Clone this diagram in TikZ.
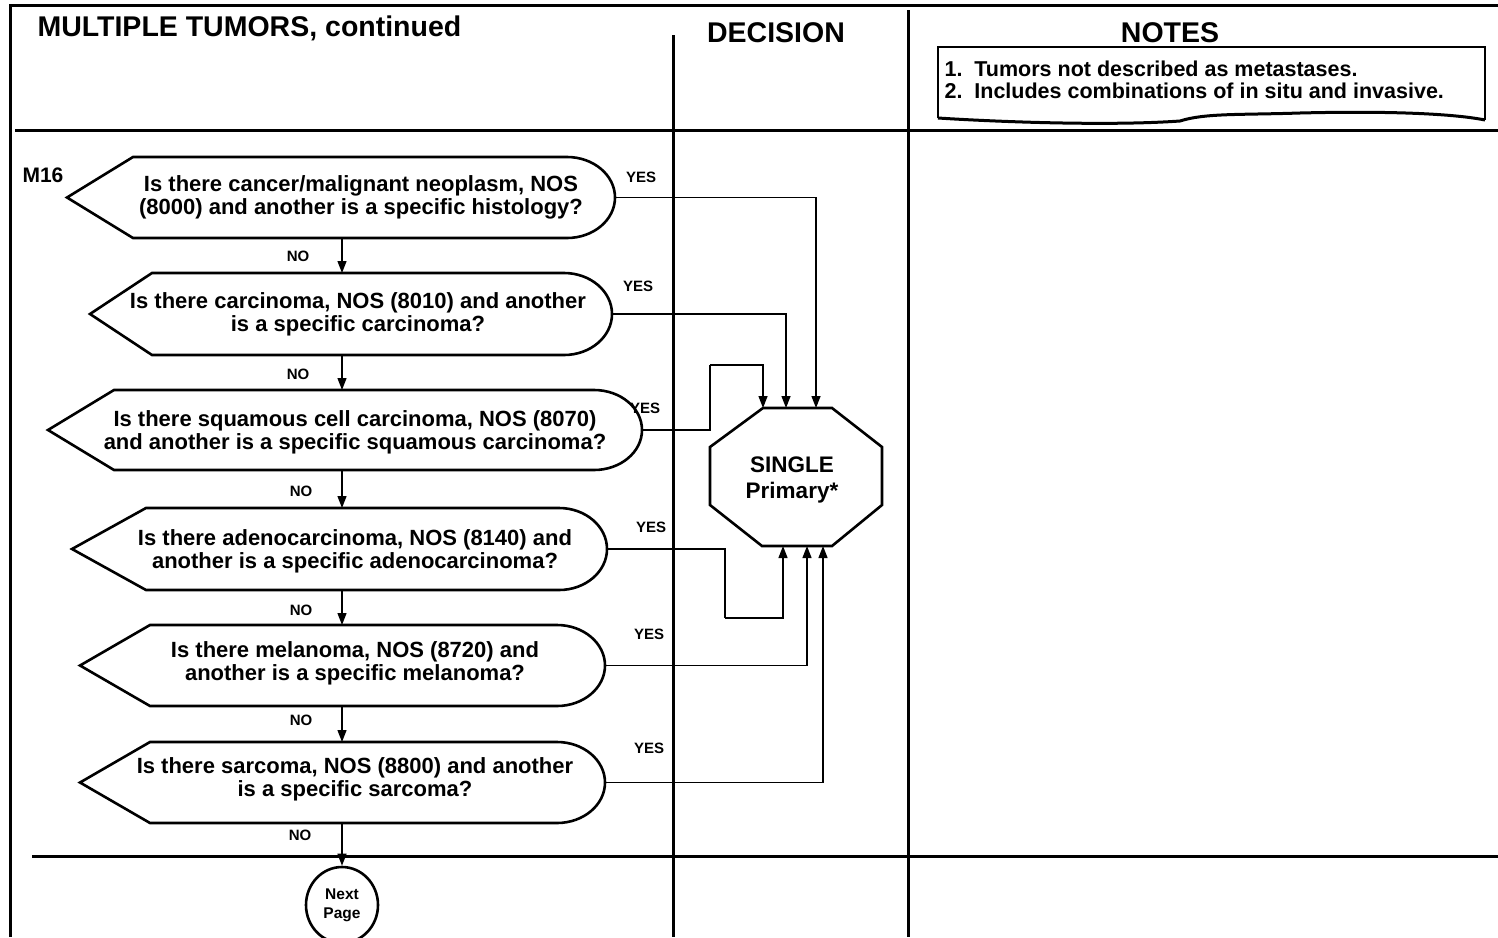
\documentclass[tikz,border=0pt]{standalone}
\usepackage{fontspec}
\setmainfont{Liberation Sans}
\usetikzlibrary{arrows.meta,shapes.geometric}

\tikzset{
  frameline/.style={line width=3pt},
  qline/.style={line width=2.6pt, line join=miter},
  wire/.style={line width=1.3pt},
  flow/.style={wire, -{Triangle[length=12pt,width=9pt]}},
  qtext/.style={font=\fontsize{22}{23}\selectfont\bfseries, align=center},
  answer/.style={font=\fontsize{15}{16}\selectfont\bfseries},
  heading/.style={font=\fontsize{28.5}{30}\selectfont\bfseries},
  notetext/.style={font=\fontsize{21.5}{22}\selectfont\bfseries, anchor=west},
}

% question outline: name, tip x, right x, top y, bottom y, stem x, slant width
\newcommand{\askshape}[7]{%
  \pgfmathsetmacro{\askm}{(#4+#5)/2}
  \pgfmathsetmacro{\askr}{(#5-#4)/2}
  \pgfmathsetmacro{\askc}{#3-48}
  \pgfmathsetmacro{\askk}{\askc+0.552*48}
  \pgfmathsetmacro{\askd}{0.552*\askr}
  \draw[qline] (#2,\askm) -- (#2+#7,#4) -- (\askc,#4)
    .. controls (\askk,#4) and (#3,\askm-\askd) .. (#3,\askm)
    .. controls (#3,\askm+\askd) and (\askk,#5) .. (\askc,#5)
    -- (#2+#7,#5) -- cycle;
  \coordinate (#1-r) at (#3,\askm);
  \coordinate (#1-t) at (#6,#4);
  \coordinate (#1-b) at (#6,#5);
}

\begin{document}
\begin{tikzpicture}[x=1pt, y=-1pt]
  \useasboundingbox (0,0) rectangle (1498,937);
  % Page frame
  \draw[frameline] (10,937) -- (10,5) -- (1498,5);
  \draw[frameline] (15,130) -- (1498,130);
  \draw[frameline] (32,856) -- (1498,856);
  \draw[frameline] (673,35) -- (673,937);
  \draw[frameline] (908,10) -- (908,937);
  % Column headings
  \node[heading, anchor=west] (title) at (34,28) {MULTIPLE TUMORS, continued};
  \node[heading] (decision) at (776,33) {DECISION};
  \node[heading] (notes) at (1170,33) {NOTES};
  % Notes box
  \draw[line width=2pt] (938,118) -- (938,47) -- (1485,47) -- (1485,120);
  \draw[line width=3pt] (938,118) .. controls (1000,122) and (1110,126) .. (1180,121)
    .. controls (1205,113) and (1240,115) .. (1300,113)
    .. controls (1380,111) and (1450,113) .. (1485,120);
  \node[notetext] (note1) at (941,69) {1.~~Tumors not described as metastases.};
  \node[notetext] (note2) at (941,91) {2.~~Includes combinations of in situ and invasive.};
  % Questions
  \askshape{q1}{67}{615}{157}{238}{342}{66}
  \askshape{q2}{90}{612}{273}{355}{342}{62}
  \askshape{q3}{48}{642}{390}{470}{342}{66}
  \askshape{q4}{72}{607}{508}{590}{342}{74}
  \askshape{q5}{80}{605}{625}{706}{342}{70}
  \askshape{q6}{80}{605}{742}{823}{342}{70}
  \node[font=\fontsize{21}{24}\selectfont\bfseries] (m16) at (43,175) {M16};
  \node[qtext] (t1) at (361,197) {Is there cancer/malignant neoplasm, NOS\\(8000) and another is a specific histology?};
  \node[qtext] (t2) at (358,314) {Is there carcinoma, NOS (8010) and another\\is a specific carcinoma?};
  \node[qtext] (t3) at (355,432) {Is there squamous cell carcinoma, NOS (8070)\\and another is a specific squamous carcinoma?};
  \node[qtext] (t4) at (355,551) {Is there adenocarcinoma, NOS (8140) and\\another is a specific adenocarcinoma?};
  \node[qtext] (t5) at (355,663) {Is there melanoma, NOS (8720) and\\another is a specific melanoma?};
  \node[qtext] (t6) at (355,779) {Is there sarcoma, NOS (8800) and another\\is a specific sarcoma?};
  % Decision octagon
  \draw[qline] (763,408) -- (832,408) -- (882,447) -- (882,505) -- (832,546)
    -- (762,546) -- (710,505) -- (710,447) -- cycle;
  \node[font=\fontsize{22.5}{26}\selectfont\bfseries, align=center] (single) at (792,480) {SINGLE\\Primary*};
  \coordinate (oct-t1) at (763,408);
  \coordinate (oct-t2) at (786,408);
  \coordinate (oct-t3) at (816,408);
  \coordinate (oct-b1) at (783,546);
  \coordinate (oct-b2) at (807,546);
  \coordinate (oct-b3) at (823,546);
  \coordinate (j3) at (710,365);
  \coordinate (j4) at (725,618);
  % Next page
  \node[ellipse, draw, line width=2.6pt, minimum width=72pt, minimum height=76pt, inner sep=0pt,
    font=\fontsize{15.5}{19}\selectfont\bfseries, align=center] (next) at (342,905) {Next\\Page};
  % NO flow
  \draw[flow] (q1-b) -- (q2-t);
  \draw[flow] (q2-b) -- (q3-t);
  \draw[flow] (q3-b) -- (q4-t);
  \draw[flow] (q4-b) -- (q5-t);
  \draw[flow] (q5-b) -- (q6-t);
  \draw[flow] (q6-b) -- (next);
  % YES flow
  \draw[flow] (q1-r) -| (oct-t3);
  \draw[flow] (q2-r) -| (oct-t2);
  \draw[wire] (q3-r) -| (j3);
  \draw[flow] (j3) -| (oct-t1);
  \draw[wire] (q4-r) -| (j4);
  \draw[flow] (j4) -| (oct-b1);
  \draw[flow] (q5-r) -| (oct-b2);
  \draw[flow] (q6-r) -| (oct-b3);
  % Answer labels
  \foreach \nm/\xx/\yy in {y1/641/177, y2/638/286, y3/645/408, y4/651/527, y5/649/634, y6/649/748} {
    \node[answer] (\nm) at (\xx,\yy) {YES};
  }
  \foreach \nm/\xx/\yy in {n1/298/256, n2/298/374, n3/301/491, n4/301/610, n5/301/720, n6/300/835} {
    \node[answer] (\nm) at (\xx,\yy) {NO};
  }
\end{tikzpicture}
\end{document}
